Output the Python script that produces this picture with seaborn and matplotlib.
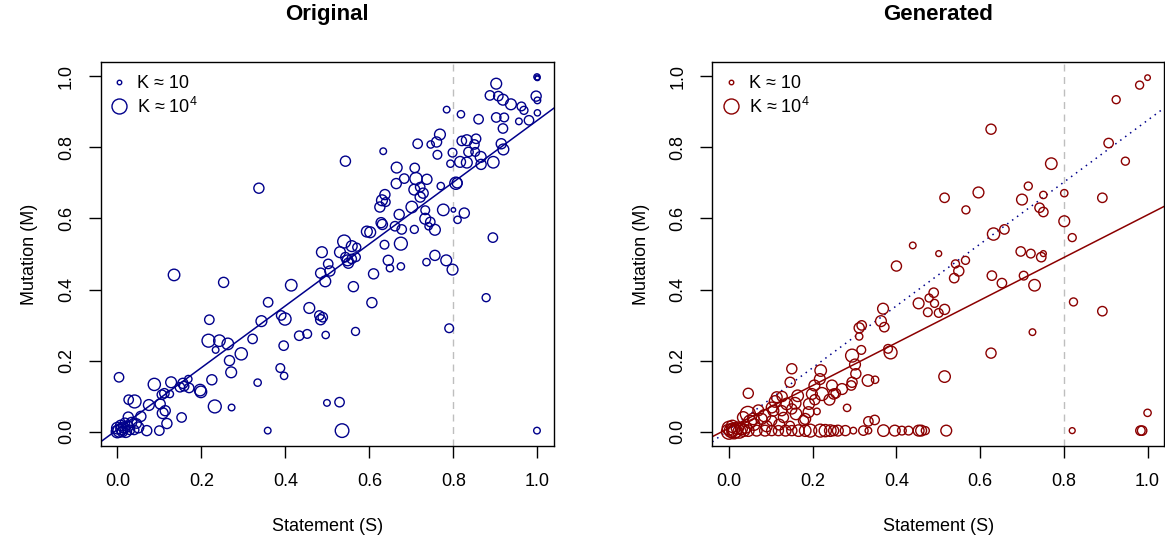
import numpy as np
import pandas as pd
import seaborn as sns
import matplotlib.pyplot as plt
from matplotlib.lines import Line2D

# ---- data ----
# Original: statement S, mutation M, log10(K)
orig_s = [0.337, 0.487, 1.0, 0.999, 1.0, 0.902, 0.887, 0.907, 0.918, 0.937, 0.997, 1.0, 0.962, 0.968, 1.0,
          0.956, 0.98, 0.784, 0.818, 0.860, 0.902, 0.921, 0.918, 0.768, 0.760, 0.746, 0.715, 0.633, 0.82, 0.832,
          0.854, 0.850, 0.914, 0.919, 0.798, 0.836, 0.852, 0.762, 0.865, 0.895, 0.793, 0.816, 0.832, 0.866,
          0.543, 0.665, 0.708, 0.683, 0.664, 0.711, 0.737, 0.721, 0.707, 0.728, 0.721, 0.770, 0.806, 0.809,
          0.637, 0.630, 0.625, 0.639, 0.701, 0.671, 0.733, 0.776, 0.800, 0.826, 0.810, 0.733, 0.745, 0.741,
          0.756, 0.628, 0.631, 0.661, 0.677, 0.707, 0.594, 0.602, 0.540, 0.530, 0.558, 0.570, 0.636, 0.675,
          0.894, 0.756, 0.783, 0.645,
          0.135, 0.253, 0.502, 0.484, 0.495, 0.414, 0.359, 0.343, 0.390, 0.399, 0.457, 0.481, 0.489, 0.484,
          0.496, 0.433, 0.452, 0.219, 0.217, 0.243, 0.234, 0.263, 0.322, 0.295, 0.267, 0.271, 0.396, 0.388,
          0.397, 0.334, 0.225, 0.232, 0.272, 0.358, 0.499, 0.004, 0.088, 0.128, 0.156, 0.169, 0.149, 0.159,
          0.171, 0.197, 0.199, 0.106, 0.112, 0.125, 0.027, 0.041, 0.075, 0.102, 0.114, 0.108, 0.056, 0.026,
          0.153, 0.118, 0.100, 0.070, 0.050, 0.046, 0.034,
          0.0, 0.005, 0.010, 0.015, 0.020, 0.008, 0.025, 0.030, 0.0, 0.012, 0.018, 0.040,
          0.543, 0.548, 0.550, 0.558, 0.568, 0.506, 0.562, 0.610, 0.649, 0.675, 0.736, 0.798, 0.606, 0.567,
          0.878, 0.790, 0.529, 0.535, 0.999]
orig_m = [0.685, 0.505, 0.996, 0.998, 0.994, 0.979, 0.946, 0.944, 0.934, 0.921, 0.944, 0.932, 0.915, 0.904, 0.897,
          0.873, 0.876, 0.906, 0.893, 0.879, 0.884, 0.884, 0.853, 0.836, 0.815, 0.808, 0.810, 0.789, 0.818, 0.820,
          0.824, 0.808, 0.810, 0.794, 0.785, 0.787, 0.787, 0.779, 0.773, 0.758, 0.754, 0.759, 0.757, 0.752,
          0.761, 0.743, 0.742, 0.712, 0.698, 0.712, 0.710, 0.688, 0.681, 0.671, 0.660, 0.691, 0.699, 0.700,
          0.667, 0.651, 0.632, 0.646, 0.632, 0.611, 0.623, 0.624, 0.624, 0.615, 0.596, 0.599, 0.590, 0.578,
          0.568, 0.588, 0.583, 0.578, 0.569, 0.569, 0.563, 0.561, 0.535, 0.505, 0.522, 0.519, 0.526, 0.529,
          0.546, 0.496, 0.482, 0.482,
          0.441, 0.420, 0.472, 0.446, 0.423, 0.412, 0.364, 0.311, 0.327, 0.317, 0.348, 0.327, 0.322, 0.315,
          0.272, 0.270, 0.275, 0.315, 0.256, 0.256, 0.230, 0.247, 0.261, 0.219, 0.200, 0.167, 0.242, 0.179,
          0.157, 0.138, 0.146, 0.071, 0.068, 0.003, 0.081, 0.153, 0.133, 0.139, 0.136, 0.148, 0.125, 0.128,
          0.123, 0.117, 0.112, 0.104, 0.108, 0.106, 0.090, 0.085, 0.075, 0.078, 0.059, 0.052, 0.043, 0.041,
          0.040, 0.023, 0.003, 0.003, 0.012, 0.023, 0.026,
          0.0, 0.003, 0.008, 0.012, 0.0, 0.018, 0.015, 0.005, 0.010, 0.0, 0.025, 0.005,
          0.491, 0.482, 0.474, 0.486, 0.491, 0.452, 0.408, 0.444, 0.460, 0.465, 0.477, 0.456, 0.363, 0.282,
          0.377, 0.291, 0.083, 0.003, 0.003]
orig_k = [2.6, 2.8, 1.2, 1.5, 1.0, 2.8, 2.4, 2.4, 2.8, 2.8, 2.6, 1.6, 2.2, 2.0, 1.5,
          1.6, 2.4, 1.6, 1.8, 2.4, 2.4, 2.2, 2.4, 2.8, 2.6, 1.8, 2.4, 1.6, 2.4, 2.8,
          2.4, 2.4, 2.6, 2.8, 2.2, 2.4, 2.2, 2.2, 2.8, 3.0, 1.8, 2.8, 2.8, 2.6,
          2.6, 2.8, 2.4, 2.4, 2.6, 3.2, 2.6, 2.4, 2.8, 2.6, 2.6, 1.8, 3.2, 2.6,
          2.6, 2.8, 2.6, 2.2, 3.0, 2.6, 2.2, 3.0, 1.0, 2.6, 1.8, 2.8, 2.4, 1.8,
          2.8, 2.6, 2.6, 2.4, 2.4, 2.0, 2.8, 2.8, 3.4, 2.8, 2.8, 2.0, 2.2, 3.4,
          2.4, 2.6, 2.8, 2.6,
          3.0, 2.6, 2.4, 2.6, 2.8, 3.0, 2.4, 2.8, 2.4, 3.2, 2.8, 2.4, 2.4, 2.6,
          1.8, 2.4, 2.2, 2.4, 3.4, 3.0, 1.6, 3.0, 2.4, 3.2, 2.6, 2.8, 2.4, 2.2,
          1.8, 1.8, 2.6, 3.4, 1.6, 1.6, 1.6, 2.4, 3.2, 2.8, 2.6, 1.8, 2.4, 2.4,
          2.4, 3.0, 3.0, 2.4, 2.4, 1.8, 2.4, 3.4, 2.8, 2.6, 2.6, 2.8, 2.6, 2.6,
          2.4, 2.6, 2.4, 2.6, 2.8, 2.4, 2.6,
          3.2, 3.4, 3.0, 2.8, 3.0, 2.6, 2.8, 2.4, 3.0, 2.6, 2.4, 2.4,
          2.4, 2.8, 2.6, 2.4, 2.2, 2.6, 2.6, 2.6, 1.8, 1.8, 1.8, 2.8, 2.6, 2.0,
          2.0, 2.2, 2.4, 3.6, 1.6]

# Generated
gen_s = [0.439, 1.0, 0.981, 0.925, 0.626, 0.907, 0.947, 0.770, 0.715, 0.515, 0.596, 0.566, 0.700, 0.751,
         0.801, 0.892, 0.742, 0.751, 0.658, 0.632, 0.801, 0.820, 0.501, 0.697, 0.721, 0.751, 0.746, 0.565,
         0.541, 0.549, 0.538, 0.628, 0.652, 0.704, 0.730, 0.489, 0.478, 0.491, 0.475, 0.501, 0.515, 0.823,
         0.892, 0.725, 0.626, 0.515, 1.0, 0.469, 0.519, 0.820, 0.983, 0.987,
         0.400, 0.453, 0.368, 0.363, 0.371, 0.317, 0.311, 0.311, 0.316, 0.294, 0.301, 0.303, 0.294, 0.292,
         0.332, 0.349, 0.386, 0.380, 0.150, 0.219, 0.146, 0.217, 0.204, 0.246, 0.222, 0.250, 0.255, 0.198,
         0.046, 0.114, 0.127, 0.164, 0.138, 0.158, 0.191, 0.102, 0.106, 0.126, 0.045, 0.150, 0.210, 0.282,
         0.182, 0.178, 0.130, 0.102, 0.078, 0.058, 0.034, 0.333, 0.348, 0.146,
         0.046, 0.066, 0.086, 0.102, 0.118, 0.135, 0.150, 0.166, 0.182, 0.194, 0.218, 0.230, 0.242, 0.250,
         0.260, 0.278, 0.297, 0.321, 0.333, 0.369, 0.396, 0.413, 0.429, 0.453, 0.459,
         0.0, 0.005, 0.010, 0.015, 0.020, 0.025, 0.030, 0.0, 0.008, 0.035, 0.040, 0.012,
         0.060, 0.090, 0.070, 0.085, 0.120, 0.160, 0.190, 0.050, 0.110, 0.240, 0.270, 0.205]
gen_m = [0.524, 0.996, 0.975, 0.934, 0.851, 0.812, 0.761, 0.754, 0.691, 0.658, 0.673, 0.624, 0.653, 0.666,
         0.671, 0.658, 0.630, 0.618, 0.569, 0.556, 0.592, 0.546, 0.501, 0.507, 0.501, 0.501, 0.491, 0.482,
         0.472, 0.452, 0.432, 0.439, 0.418, 0.439, 0.412, 0.391, 0.376, 0.361, 0.336, 0.334, 0.344, 0.365,
         0.339, 0.280, 0.221, 0.155, 0.053, 0.003, 0.003, 0.003, 0.003, 0.003,
         0.466, 0.361, 0.346, 0.311, 0.294, 0.299, 0.292, 0.268, 0.230, 0.214, 0.189, 0.163, 0.139, 0.130,
         0.144, 0.146, 0.223, 0.233, 0.177, 0.172, 0.139, 0.148, 0.130, 0.130, 0.106, 0.106, 0.108, 0.106,
         0.108, 0.097, 0.099, 0.101, 0.078, 0.080, 0.078, 0.068, 0.059, 0.059, 0.050, 0.064, 0.057, 0.067,
         0.036, 0.031, 0.040, 0.031, 0.036, 0.036, 0.040, 0.029, 0.033, 0.017,
         0.003, 0.003, 0.003, 0.003, 0.003, 0.003, 0.003, 0.003, 0.003, 0.003, 0.003, 0.003, 0.003, 0.003,
         0.003, 0.003, 0.003, 0.003, 0.003, 0.003, 0.003, 0.003, 0.003, 0.003, 0.003,
         0.0, 0.003, 0.006, 0.002, 0.010, 0.0, 0.008, 0.010, 0.015, 0.004, 0.012, 0.0,
         0.020, 0.015, 0.060, 0.045, 0.020, 0.050, 0.055, 0.028, 0.085, 0.090, 0.120, 0.090]
gen_k = [1.6, 1.3, 2.0, 2.0, 2.6, 2.4, 2.0, 3.0, 2.0, 2.4, 2.8, 2.0, 2.8, 1.8,
         1.8, 2.4, 2.4, 2.4, 2.4, 3.2, 2.8, 2.0, 1.4, 2.4, 2.2, 1.4, 2.4, 2.0,
         2.0, 2.6, 2.4, 2.4, 2.4, 2.2, 3.0, 2.4, 2.0, 2.0, 2.2, 2.2, 2.6, 2.0,
         2.4, 1.6, 2.6, 3.0, 1.8, 2.0, 2.8, 1.4, 2.4, 2.4,
         2.6, 2.8, 2.8, 2.8, 2.4, 2.4, 2.6, 1.8, 2.2, 3.4, 2.8, 2.6, 2.6, 2.4,
         3.0, 1.8, 3.4, 2.2, 2.6, 3.0, 2.6, 2.8, 2.8, 2.8, 3.4, 2.6, 2.4, 2.8,
         2.6, 2.8, 2.6, 3.0, 3.0, 3.0, 2.8, 2.8, 2.8, 2.6, 4.0, 2.6, 1.6, 1.8,
         2.8, 2.6, 2.6, 2.6, 2.8, 3.0, 3.0, 2.4, 2.4, 2.2,
         3.0, 2.8, 2.8, 2.6, 2.6, 2.8, 2.6, 3.0, 3.0, 3.4, 3.4, 3.2, 3.0, 2.6,
         2.8, 2.6, 1.6, 2.4, 1.6, 3.0, 2.8, 2.2, 2.2, 2.8, 2.8,
         4.0, 3.6, 3.4, 3.6, 3.2, 3.4, 3.0, 3.6, 3.2, 3.2, 3.0, 3.8,
         3.0, 2.8, 2.8, 3.2, 2.8, 3.0, 2.8, 3.4, 3.0, 2.8, 2.8, 2.6]

# fitted lines (intercept, slope)
fit_orig = (0.006, 0.87)
fit_gen = (0.010, 0.60)
threshold = 0.8
legend_k = [1, 4]
legend_labels = ["K \u2248 10", "K \u2248 $10^4$"]

blue = "#00008B"
red = "#8B0000"

sns.set_theme(style="white")
plt.rcParams['font.family'] = ['Liberation Sans', 'DejaVu Sans']
plt.rcParams['mathtext.fontset'] = 'custom'
plt.rcParams['mathtext.rm'] = 'Liberation Sans'
plt.rcParams['mathtext.it'] = 'Liberation Sans'
plt.rcParams['mathtext.default'] = 'regular'
for key in ['text.color', 'axes.labelcolor', 'xtick.color', 'ytick.color', 'axes.edgecolor']:
    plt.rcParams[key] = 'black'


def marker_pts(k):
    # circle diameter grows with log10(K); pixels -> points at 100 dpi
    return (3.5 * np.asarray(k, dtype=float) + 1.0) * 0.72


fig = plt.figure(figsize=(11.65, 5.42), dpi=100)
ax1 = fig.add_axes([0.0863, 0.1773, 0.3894, 0.7083])
ax2 = fig.add_axes([0.6114, 0.1773, 0.3880, 0.7083])

panels = [
    (ax1, orig_s, orig_m, orig_k, blue, "Original", [(fit_orig, blue, "-")]),
    (ax2, gen_s, gen_m, gen_k, red, "Generated", [(fit_orig, blue, (0, (1, 3))), (fit_gen, red, "-")]),
]

for ax, s, m, k, col, title, fits in panels:
    df = pd.DataFrame({"S": s, "M": m, "K": k})
    sns.scatterplot(data=df, x="S", y="M", s=marker_pts(df["K"]) ** 2, color=col,
                    linewidth=1.0, legend=False, ax=ax, zorder=3)
    pts = ax.collections[-1]
    pts.set_facecolor("none")
    pts.set_edgecolor(col)
    ax.axvline(threshold, color="#BEBEBE", lw=1, ls=(0, (5, 4)), zorder=1)
    for (b0, b1), lc, ls in fits:
        ax.axline((0, b0), slope=b1, color=lc, lw=1.1, ls=ls, zorder=2)
    ax.set_xlim(-0.04, 1.04)
    ax.set_ylim(-0.04, 1.04)
    ax.set_xticks(np.arange(0, 1.01, 0.2))
    ax.set_yticks(np.arange(0, 1.01, 0.2))
    ax.set_xticklabels([f"{v:.1f}" for v in np.arange(0, 1.01, 0.2)])
    ax.set_yticklabels([f"{v:.1f}" for v in np.arange(0, 1.01, 0.2)], rotation=90, va="center")
    ax.tick_params(axis="both", direction="out", length=8.5, width=1, color="black",
                   labelcolor="black", labelsize=13, left=True, bottom=True)
    ax.tick_params(axis="x", pad=11)
    ax.tick_params(axis="y", pad=10)
    for sp in ax.spines.values():
        sp.set_visible(True)
        sp.set_color("black")
        sp.set_linewidth(1)
    ax.set_xlabel("Statement (S)", fontsize=13, labelpad=20)
    ax.set_ylabel("Mutation (M)", fontsize=13, labelpad=14)
    ax.set_title(title, fontsize=16, fontweight="bold", pad=30)
    handles = [Line2D([], [], ls="", marker="o", mfc="none", mec=col, mew=1.0, ms=marker_pts(kk))
               for kk in legend_k]
    ax.legend(handles, legend_labels, loc="upper left", bbox_to_anchor=(0.005, 0.985), frameon=False,
              fontsize=13, handlelength=1.0, handletextpad=0.5, labelspacing=0.25, borderaxespad=0)

fig.savefig("out.png", dpi=100)
